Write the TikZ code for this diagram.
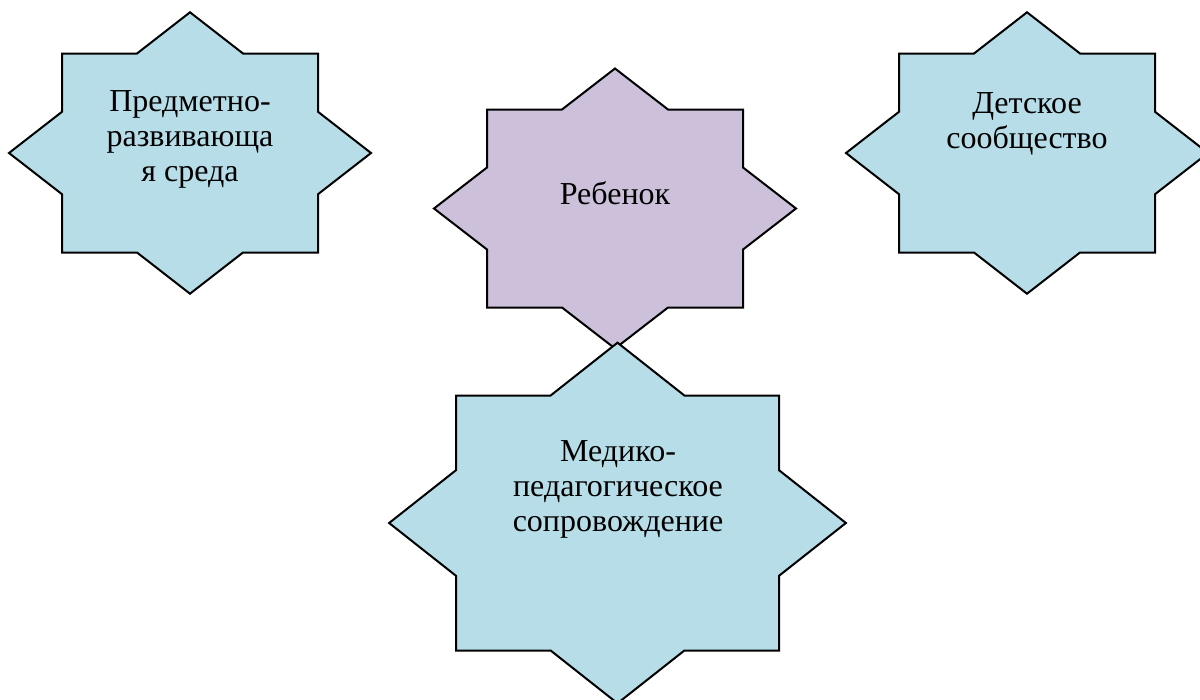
\documentclass[tikz,border=0pt]{standalone}
\usepackage{fontspec}
\setmainfont{Liberation Serif}
\definecolor{aqualight}{RGB}{183,222,232}
\definecolor{lilaclight}{RGB}{204,192,218}
% 8-pointed star: centre x, centre y, half width, half height, fill
\newcommand{\octstar}[5]{%
  \draw[starshape,fill=#5,shift={(#1,#2)},xscale=#3,yscale=#4]
    (0,-1.4142) -- (0.4142,-1) -- (1,-1) -- (1,-0.4142) -- (1.4142,0) -- (1,0.4142)
    -- (1,1) -- (0.4142,1) -- (0,1.4142) -- (-0.4142,1) -- (-1,1) -- (-1,0.4142)
    -- (-1.4142,0) -- (-1,-0.4142) -- (-1,-1) -- (-0.4142,-1) -- cycle;}

\begin{document}
\begin{tikzpicture}[x=0.75pt,y=-0.75pt,
    starshape/.style={draw=black,line width=1.5pt,line join=miter},
    starlabel/.style={align=center,inner sep=0pt,anchor=base,font=\fontsize{24}{26.2}\selectfont}]
    \useasboundingbox (0,0) rectangle (1200,700);
    \clip (0,0) rectangle (1200,700);
    %stars
    \octstar{190}{153}{128}{99.5}{aqualight}
    \octstar{615}{208.5}{128}{99}{lilaclight}
    \octstar{1027}{153}{128}{99.5}{aqualight}
    \octstar{617.5}{523}{161.5}{127.5}{aqualight}
    %labels (anchored at the last line)
    \node[starlabel] (sreda) at (190,181.7) {Предметно-\\развивающа\\я среда};
    \node[starlabel] (rebenok) at (615,204.3) {Ребенок};
    \node[starlabel] (soobsh) at (1027,148.3) {Детское\\сообщество};
    \node[starlabel] (soprov) at (618,531.7) {Медико-\\педагогическое\\сопровождение};
\end{tikzpicture}
\end{document}
